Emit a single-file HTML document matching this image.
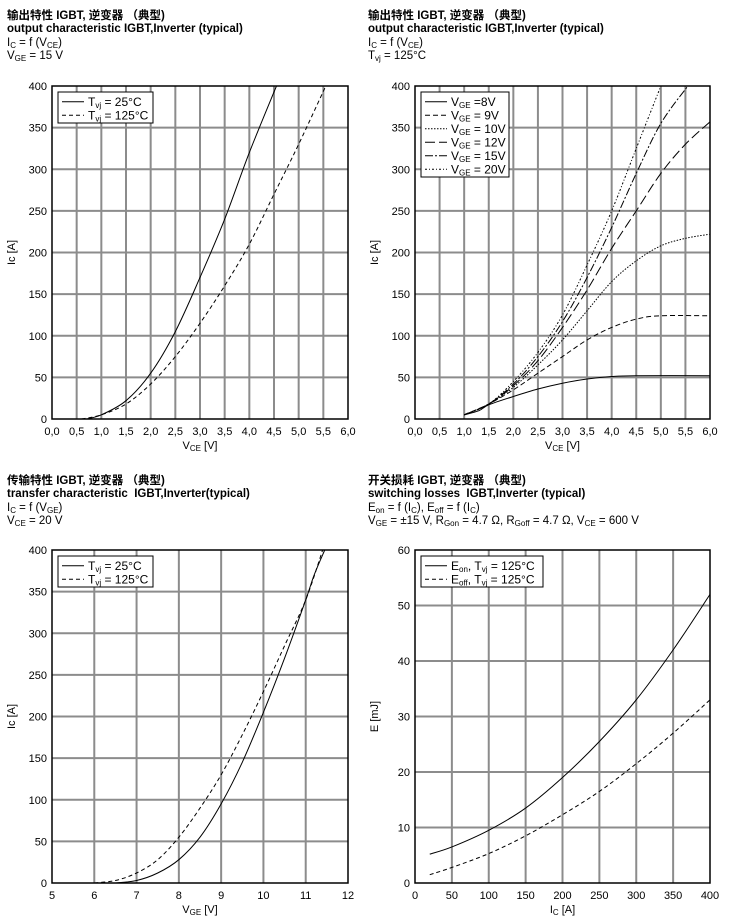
<!DOCTYPE html><html><head><meta charset="utf-8"><style>
body{margin:0;background:#fff;width:739px;height:919px;overflow:hidden;font-family:"Liberation Sans","Noto Sans CJK SC",sans-serif}
.h{position:absolute;font-size:11.5px;line-height:13.3px;color:#000;white-space:nowrap}
b{font-weight:bold}
sub{font-size:8px;vertical-align:-2px;line-height:0}
</style></head><body>
<div class="h" style="left:7px;top:10px"><b>输出特性 IGBT, 逆变器 （典型)</b><br><b>output characteristic IGBT,Inverter (typical)</b><br>I<sub>C</sub> = f (V<sub>CE</sub>)<br>V<sub>GE</sub> = 15 V</div>
<div class="h" style="left:368px;top:10px"><b>输出特性 IGBT, 逆变器 （典型)</b><br><b>output characteristic IGBT,Inverter (typical)</b><br>I<sub>C</sub> = f (V<sub>CE</sub>)<br>T<sub>vj</sub> = 125°C</div>
<div class="h" style="left:7px;top:475px"><b>传输特性 IGBT, 逆变器 （典型)</b><br><b>transfer characteristic&nbsp; IGBT,Inverter(typical)</b><br>I<sub>C</sub> = f (V<sub>GE</sub>)<br>V<sub>CE</sub> = 20 V</div>
<div class="h" style="left:368px;top:475px"><b>开关损耗 IGBT, 逆变器 （典型)</b><br><b>switching losses&nbsp; IGBT,Inverter (typical)</b><br>E<sub>on</sub> = f (I<sub>C</sub>), E<sub>off</sub> = f (I<sub>C</sub>)<br>V<sub>GE</sub> = ±15 V, R<sub>Gon</sub> = 4.7 Ω, R<sub>Goff</sub> = 4.7 Ω, V<sub>CE</sub> = 600 V</div>
<svg id="s" width="739" height="919" style="position:absolute;left:0;top:0" font-family="Liberation Sans, sans-serif" font-size="11"></svg>
<script>
var S=document.getElementById('s'),out='';
function plot(o){
 var X=function(v){return o.x0+(v-o.xa)/(o.xb-o.xa)*o.w},Y=function(v){return o.y0+o.h-(v-o.ya)/(o.yb-o.ya)*o.h};
 var s='';
 for(var i=0;i<=o.nx;i++){var v=o.xa+(o.xb-o.xa)*i/o.nx,x=X(v);
  if(i>0&&i<o.nx)s+='<line x1="'+x+'" y1="'+o.y0+'" x2="'+x+'" y2="'+(o.y0+o.h)+'" stroke="#8c8c8c" stroke-width="2"/>';
  s+='<text x="'+x+'" y="'+(o.y0+o.h+16)+'" text-anchor="middle">'+o.fx(v)+'</text>';}
 for(var i=0;i<=o.ny;i++){var v=o.ya+(o.yb-o.ya)*i/o.ny,y=Y(v);
  if(i>0&&i<o.ny)s+='<line x1="'+o.x0+'" y1="'+y+'" x2="'+(o.x0+o.w)+'" y2="'+y+'" stroke="#8c8c8c" stroke-width="2"/>';
  s+='<text x="'+(o.x0-5)+'" y="'+(y+4)+'" text-anchor="end">'+Math.round(v)+'</text>';}
 s+='<rect x="'+o.x0+'" y="'+o.y0+'" width="'+o.w+'" height="'+o.h+'" fill="none" stroke="#000" stroke-width="1.5"/>';
 s+='<text x="'+(o.x0+o.w/2)+'" y="'+(o.y0+o.h+30)+'" text-anchor="middle">'+o.xl+'</text>';
 s+='<text transform="translate('+(o.x0-37)+','+(o.y0+o.h/2)+') rotate(-90)" text-anchor="middle">'+o.yl+'</text>';
 o.c.forEach(function(c){
  var p=c[1],d='';
  var pts=p.map(function(q){return [X(q[0]),Y(q[1])]});
  d='M'+pts[0];
  for(var i=0;i<pts.length-1;i++){var p0=pts[i-1]||pts[i],p1=pts[i],p2=pts[i+1],p3=pts[i+2]||p2;
   d+=' C'+(p1[0]+(p2[0]-p0[0])/6)+','+(p1[1]+(p2[1]-p0[1])/6)+' '+(p2[0]-(p3[0]-p1[0])/6)+','+(p2[1]-(p3[1]-p1[1])/6)+' '+p2;}
  s+='<path d="'+d+'" fill="none" stroke="#000" stroke-width="1" stroke-dasharray="'+c[0]+'"/>';
 });
 var L=o.leg,lh=13.5,lw=L.w,lx=o.x0+6,ly=o.y0+6;
 s+='<rect x="'+lx+'" y="'+ly+'" width="'+lw+'" height="'+(L.items.length*lh+4)+'" fill="#fff" stroke="#000"/>';
 L.items.forEach(function(it,i){var y=ly+2+lh*i+lh/2+1;
  s+='<line x1="'+(lx+4)+'" y1="'+y+'" x2="'+(lx+26)+'" y2="'+y+'" stroke="#000" stroke-dasharray="'+it[0]+'"/>';
  s+='<text x="'+(lx+30)+'" y="'+(y+4)+'" font-size="12">'+it[1]+'</text>';});
 out+=s;
}
var f1=function(v){return v.toFixed(1).replace('.',',')},fi=function(v){return Math.round(v)};
var sb=function(t){return '<tspan font-size="8" dy="2">'+t+'</tspan><tspan dy="-2">'};
var T='T'+sb('vj'),V='V'+sb('GE');
plot({x0:52,y0:86,w:296,h:333,xa:0,xb:6,ya:0,yb:400,nx:12,ny:8,fx:f1,xl:'V'+sb('CE')+' [V]</tspan>',yl:'Ic [A]',
 c:[['',[[0.7,0],[1,5],[1.5,22],[2,55],[2.5,105],[3,170],[3.5,240],[4,320],[4.55,400]]],
    ['4,3',[[0.6,0],[1,5],[1.5,18],[2,42],[2.5,75],[3,115],[3.5,160],[4,210],[4.5,270],[5,330],[5.55,400]]]],
 leg:{w:95,items:[['',T+' = 25°C</tspan>'],['4,3',T+' = 125°C</tspan>']]}});
plot({x0:415,y0:86,w:295,h:333,xa:0,xb:6,ya:0,yb:400,nx:12,ny:8,fx:f1,xl:'V'+sb('CE')+' [V]</tspan>',yl:'Ic [A]',
 c:[['',[[1,5],[1.3,10],[1.5,17],[2,27],[2.5,36],[3,43],[3.5,48],[4,51],[4.5,52],[6,52]]],
    ['5,3',[[1,5],[1.5,18],[2,35],[2.5,55],[3,75],[3.5,95],[4,110],[4.5,120],[5,124],[6,124]]],
    ['1.5,1.5',[[1,5],[1.5,18],[2,38],[2.5,65],[3,95],[3.5,130],[4,165],[4.5,190],[5,208],[5.5,217],[6,222]]],
    ['10,4',[[1,5],[1.5,18],[2,40],[2.5,70],[3,110],[3.5,155],[4,205],[4.5,250],[5,295],[5.5,330],[6,357]]],
    ['8,2,2,2',[[1,5],[1.5,18],[2,42],[2.5,75],[3,117],[3.5,170],[4,230],[4.5,295],[5,355],[5.55,400]]],
    ['2,2,1,2',[[1,5],[1.5,18],[2,45],[2.5,80],[3,125],[3.5,185],[4,250],[4.5,325],[5,400]]]],
 leg:{w:88,items:[['',V+' =8V</tspan>'],['5,3',V+' = 9V</tspan>'],['1.5,1.5',V+' = 10V</tspan>'],['10,4',V+' = 12V</tspan>'],['8,2,2,2',V+' = 15V</tspan>'],['2,2,1,2',V+' = 20V</tspan>']]}});
plot({x0:52,y0:550,w:296,h:333,xa:5,xb:12,ya:0,yb:400,nx:7,ny:8,fx:fi,xl:'V'+sb('GE')+' [V]</tspan>',yl:'Ic [A]',
 c:[['',[[6.5,0],[7,3],[7.5,12],[8,28],[8.5,55],[9,95],[9.5,145],[10,205],[10.5,270],[11,340],[11.2,370],[11.45,400]]],
    ['4,3',[[6,0],[6.5,3],[7,12],[7.5,28],[8,55],[8.5,90],[9,130],[9.5,178],[10,230],[10.5,285],[11,340],[11.4,400]]]],
 leg:{w:95,items:[['',T+' = 25°C</tspan>'],['4,3',T+' = 125°C</tspan>']]}});
plot({x0:415,y0:550,w:295,h:333,xa:0,xb:400,ya:0,yb:60,nx:8,ny:6,fx:fi,xl:'I'+sb('C')+' [A]</tspan>',yl:'E [mJ]',
 c:[['',[[20,5.2],[50,6.5],[100,9.5],[150,13.5],[200,19],[250,25.5],[300,33],[350,42],[400,52]]],
    ['4,3',[[20,1.5],[50,2.8],[100,5.3],[150,8.5],[200,12.3],[250,16.5],[300,21.5],[350,27],[400,33]]]],
 leg:{w:122,items:[['','E'+sb('on')+', </tspan>'+T+' = 125°C</tspan>'],['4,3','E'+sb('off')+', </tspan>'+T+' = 125°C</tspan>']]}});
S.innerHTML=out;
</script></body></html>
